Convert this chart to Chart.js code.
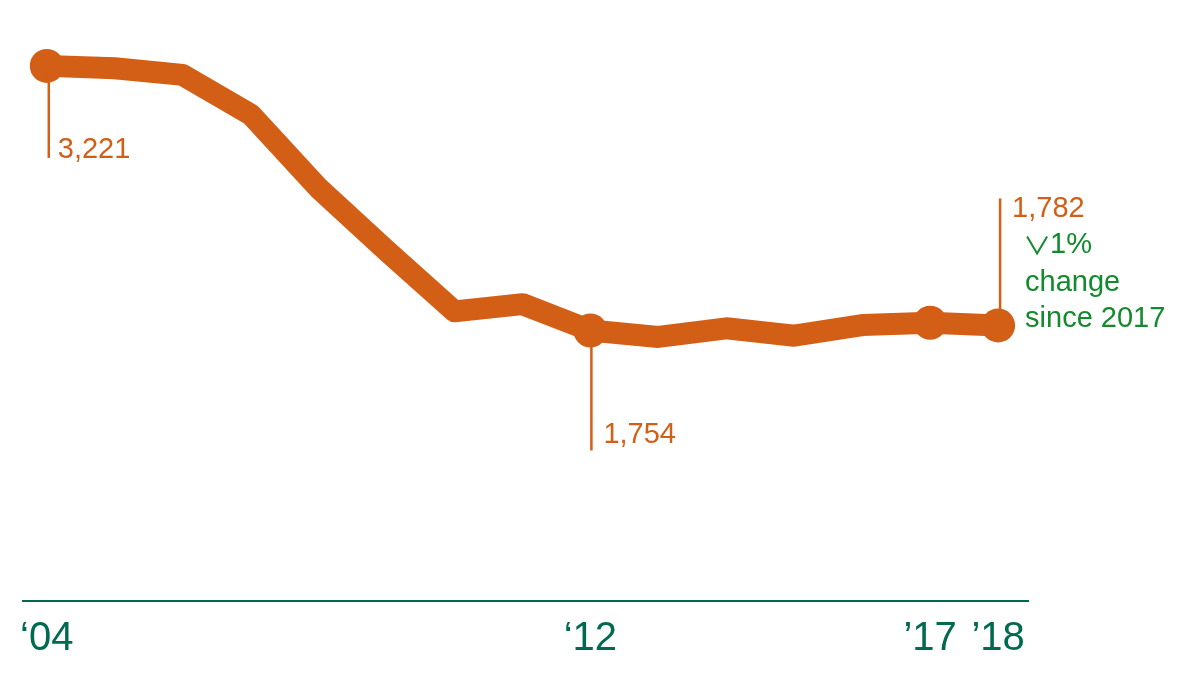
<!DOCTYPE html>
<html>
<head>
<meta charset="utf-8">
<script src="https://cdn.jsdelivr.net/npm/chart.js@4"></script>
<style>
  html, body { margin: 0; padding: 0; background: #fff; }
  #wrap { width: 1200px; height: 675px; position: relative; }
</style>
</head>
<body>
<div id="wrap"><canvas id="grafico"></canvas></div>
<script>
const anos    = [2004, 2005, 2006, 2007, 2008, 2009, 2010, 2011, 2012, 2013, 2014, 2015, 2016, 2017, 2018];
const valores = [3221, 3208, 3171, 2952, 2543, 2197, 1860, 1900, 1754, 1718, 1766, 1725, 1784, 1797, 1782];
const anosComPonto = [2004, 2012, 2017, 2018];
const ticksAnos    = [2004, 2012, 2017, 2018];
const rotulosTicks = { 2004: '\u201804', 2012: '\u201812', 2017: '\u201917', 2018: '\u201918' };
const notaTexto = ['1%', 'change', 'since 2017'];

const LARANJA = '#d35f17';
const VERDE_EIXO = '#006a50';
const VERDE_NOTA = '#138a2c';
const FONTE = "'Liberation Sans', Arial, sans-serif";

function fmt(v) { return v.toLocaleString('en-US'); }

// rótulos com linha fina: 2004 e 2012 para baixo, 2018 para cima
const anotacoes = {
    id: 'anotacoes',
    afterDatasetsDraw(chart) {
        const ctx = chart.ctx;
        const x = chart.scales.x, y = chart.scales.y;
        ctx.save();
        ctx.strokeStyle = LARANJA;
        ctx.lineWidth = 2.5;
        ctx.fillStyle = LARANJA;
        ctx.font = '29px ' + FONTE;
        ctx.textBaseline = 'alphabetic';
        ctx.textAlign = 'left';

        const i04 = anos.indexOf(2004), i12 = anos.indexOf(2012), i18 = anos.indexOf(2018);

        let px = x.getPixelForValue(anos[i04]) + 2, py = y.getPixelForValue(valores[i04]);
        ctx.beginPath(); ctx.moveTo(px, py); ctx.lineTo(px, py + 92); ctx.stroke();
        ctx.fillText(fmt(valores[i04]), px + 9, py + 92);

        px = x.getPixelForValue(anos[i12]) + 1; py = y.getPixelForValue(valores[i12]);
        ctx.beginPath(); ctx.moveTo(px, py); ctx.lineTo(px, py + 120); ctx.stroke();
        ctx.fillText(fmt(valores[i12]), px + 12, py + 113);

        px = x.getPixelForValue(anos[i18]) + 2; py = y.getPixelForValue(valores[i18]);
        ctx.beginPath(); ctx.moveTo(px, py); ctx.lineTo(px, py - 127); ctx.stroke();
        ctx.fillText(fmt(valores[i18]), px + 12, py - 108);

        // seta para baixo fina antes do "1%"
        ctx.strokeStyle = VERDE_NOTA;
        ctx.lineWidth = 2;
        ctx.beginPath();
        ctx.moveTo(px + 27, py - 89);
        ctx.lineTo(px + 37, py - 72);
        ctx.lineTo(px + 47, py - 89);
        ctx.stroke();

        ctx.fillStyle = VERDE_NOTA;
        ctx.fillText(notaTexto[0], px + 50, py - 72);
        ctx.fillText(notaTexto[1], px + 25, py - 34);
        ctx.fillText(notaTexto[2], px + 25, py + 2);
        ctx.restore();
    }
};

new Chart(document.getElementById('grafico').getContext('2d'), {
    type: 'line',
    data: {
        datasets: [{
            data: anos.map((a, i) => ({ x: a, y: valores[i] })),
            borderColor: LARANJA,
            backgroundColor: LARANJA,
            borderWidth: 22,
            borderJoinStyle: 'round',
            borderCapStyle: 'round',
            tension: 0,
            pointRadius: anos.map(a => anosComPonto.includes(a) ? 17 : 0),
            pointBorderWidth: 0,
            pointHoverRadius: 0
        }]
    },
    options: {
        responsive: true, maintainAspectRatio: false,
        animation: false,
        layout: { padding: { top: 4, left: 23, right: 172, bottom: 0 } },
        plugins: { legend: { display: false }, tooltip: { enabled: false } },
        scales: {
            x: {
                type: 'linear',
                min: 2003.65, max: 2018.44,
                afterBuildTicks: s => { s.ticks = ticksAnos.map(v => ({ value: v })); },
                afterFit: s => { s.height = 74; },
                grid: { display: false, drawTicks: false },
                border: { display: true, color: VERDE_EIXO, width: 2 },
                ticks: {
                    autoSkip: false, maxRotation: 0, padding: 14,
                    color: VERDE_EIXO,
                    font: { family: FONTE, size: 40 },
                    callback: v => rotulosTicks[v] || ''
                }
            },
            y: {
                display: false,
                min: 254, max: 3492
            }
        }
    },
    plugins: [anotacoes]
});
</script>
</body>
</html>
